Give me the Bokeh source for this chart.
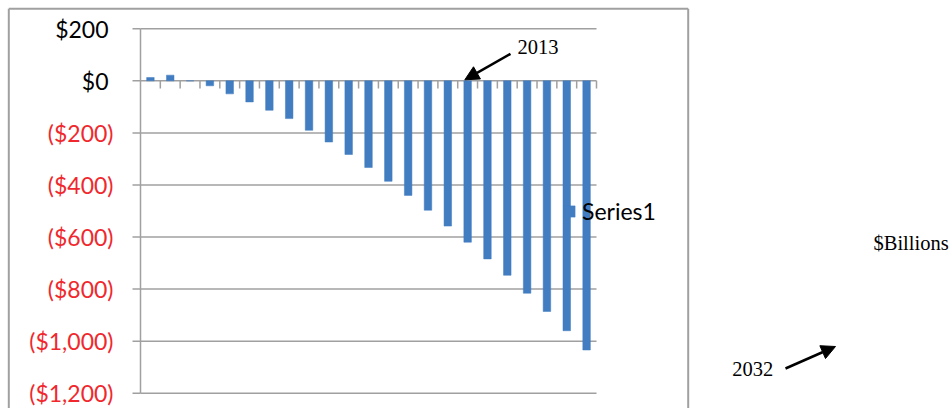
from bokeh.plotting import figure
from bokeh.models import (Range1d, Label, Arrow, NormalHead, Legend, LegendItem,
                          ColumnDataSource)
from bokeh.core.properties import value
from bokeh.embed import file_html
from bokeh.resources import INLINE

# Annual balance, $ billions (one bar per year, oldest first)
balances = [13, 22, 0, -19, -50, -81, -113, -145, -190, -235, -283, -333,
            -386, -440, -497, -558, -620, -684, -747, -816, -886, -960, -1034]
series_name = "Series1"
y_ticks = [200, 0, -200, -400, -600, -800, -1000, -1200]
y_labels = ["$200", "$0", "($200)", "($400)", "($600)", "($800)",
            "($1,000)", "($1,200)"]

BAR = "#417DC0"
GRID = "#A0A0A0"
RED = "#F0282D"
SANS = "Lato"
SERIF = "Liberation Serif"

# page geometry (pixels): the whole canvas is the plotting frame, the
# value axis sits at PLOT_L and the category slots end at PLOT_R
W, H = 952, 408
PLOT_L, PLOT_R = 140, 596
TOP_PX, BOT_PX = 28.3, 392.7          # where y_ticks[0] and y_ticks[-1] land
n = len(balances)
y_max, y_min = y_ticks[0], y_ticks[-1]
ux = (PLOT_R - PLOT_L) / n                     # px per category
uy = (BOT_PX - TOP_PX) / (y_max - y_min)       # px per $billion


def px_x(px):
    return (px - PLOT_L) / ux


def px_y(py):
    return y_max - (py - TOP_PX) / uy


p = figure(width=W, height=H, output_backend="svg", toolbar_location=None,
           x_range=Range1d(px_x(0), px_x(W)), y_range=Range1d(px_y(H), px_y(0)),
           x_axis_location=None, y_axis_location=None,
           min_border=0, min_border_left=0, min_border_right=0,
           min_border_top=0, min_border_bottom=0)
p.outline_line_color = None
p.grid.visible = False
p.background_fill_color = "white"
p.border_fill_color = "white"

# horizontal gridlines across the category slots
p.segment(x0=[0] * len(y_ticks), x1=[n] * len(y_ticks), y0=y_ticks, y1=y_ticks,
          line_color=GRID, line_width=1.5)

# value axis: line, outward ticks and labels
p.segment(x0=[0], x1=[0], y0=[y_min], y1=[y_max], line_color=GRID, line_width=1.5)
p.segment(x0=[0] * len(y_ticks), x1=[-8 / ux] * len(y_ticks), y0=y_ticks, y1=y_ticks,
          line_color=GRID, line_width=1.5)
lab_src = ColumnDataSource(dict(
    x=[0] * len(y_ticks), y=y_ticks, text=y_labels,
    color=[RED if t < 0 else "black" for t in y_ticks],
    dx=[-27 if t < 0 else -32 for t in y_ticks]))
p.text(x="x", y="y", text="text", x_offset="dx", text_color="color", source=lab_src,
       text_align="right", text_baseline="middle",
       text_font=value(SANS), text_font_size=value("23px"))

# bars
src = ColumnDataSource(dict(x=[i + 0.5 for i in range(n)], top=balances))
bars = p.vbar(x="x", top="top", bottom=0, width=0.38, source=src,
              fill_color=BAR, line_color=BAR, line_width=0.5)

# category tick marks hanging below the zero line
edges = list(range(1, n + 1))
p.segment(x0=edges, y0=[0] * n, x1=edges, y1=[-7.6 / uy] * n,
          line_color=GRID, line_width=1.5)

legend = Legend(items=[LegendItem(label=series_name, renderers=[bars])],
                location=(562, 183), orientation="vertical",
                glyph_width=14, glyph_height=14, label_standoff=6,
                padding=0, margin=0, spacing=0,
                border_line_color=None, background_fill_alpha=0,
                label_text_font=SANS, label_text_font_size="23px",
                label_text_color="black")
p.add_layout(legend)

# outer chart border (open at the bottom of the page)
bx0, bx1, by0, by1 = px_x(8.3), px_x(687.7), px_y(8.3), px_y(H + 20)
p.segment(x0=[bx0, bx0, bx1], y0=[by0, by0, by0], x1=[bx0, bx1, bx1], y1=[by1, by0, by1],
          line_color=GRID, line_width=2)

# annotations
head = dict(size=14, fill_color="black", line_color="black")
p.add_layout(Label(x=px_x(517), y=px_y(53.3), text="2013", text_font=SERIF,
                   text_font_size="20.5px", text_color="black"))
p.add_layout(Arrow(x_start=px_x(510), y_start=px_y(53.3), x_end=px_x(464.3), y_end=px_y(79.3),
                   line_color="black", line_width=2.5, end=NormalHead(**head)))
p.add_layout(Label(x=px_x(873), y=px_y(253), text="$Billions", text_font=SERIF,
                   text_font_size="20.5px", text_color="black"))
p.add_layout(Label(x=px_x(731.7), y=px_y(375), text="2032", text_font=SERIF,
                   text_font_size="20.5px", text_color="black"))
p.add_layout(Arrow(x_start=px_x(785), y_start=px_y(368), x_end=px_x(835), y_end=px_y(346),
                   line_color="black", line_width=2.5, end=NormalHead(**head)))

open("out.html", "w").write(file_html(p, INLINE))
